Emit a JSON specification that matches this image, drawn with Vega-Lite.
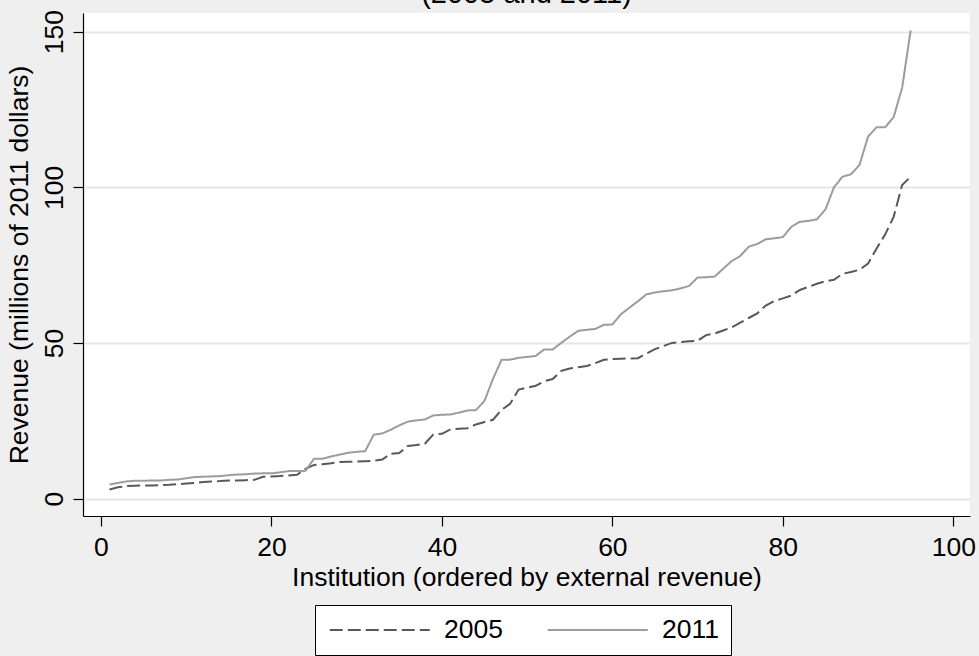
{
  "$schema": "https://vega.github.io/schema/vega-lite/v6.json",
  "autosize": {"type": "none"},
  "width": 887,
  "height": 503,
  "padding": {"left": 83, "top": 13, "right": 9, "bottom": 140},
  "background": "#efefef",
  "view": {"fill": "white", "stroke": null},
  "title": {"text": "(2005 and 2011)", "fontSize": 29, "font": "Liberation Sans", "fontWeight": "normal", "color": "black", "baseline": "alphabetic", "offset": -22, "anchor": "middle"},
  "config": {"font": "Liberation Sans"},
  "datasets": {
    "rev": [
      {"inst":1,"y2005":2.9,"y2011":4.5},{"inst":2,"y2005":3.6,"y2011":5.0},{"inst":3,"y2005":4.0,"y2011":5.5},{"inst":4,"y2005":4.1,"y2011":5.7},{"inst":5,"y2005":4.2,"y2011":5.7},
      {"inst":6,"y2005":4.2,"y2011":5.8},{"inst":7,"y2005":4.3,"y2011":5.8},{"inst":8,"y2005":4.4,"y2011":6.0},{"inst":9,"y2005":4.6,"y2011":6.1},{"inst":10,"y2005":4.8,"y2011":6.5},
      {"inst":11,"y2005":5.0,"y2011":6.9},{"inst":12,"y2005":5.3,"y2011":7.0},{"inst":13,"y2005":5.5,"y2011":7.1},{"inst":14,"y2005":5.6,"y2011":7.2},{"inst":15,"y2005":5.8,"y2011":7.5},
      {"inst":16,"y2005":5.8,"y2011":7.7},{"inst":17,"y2005":5.9,"y2011":7.8},{"inst":18,"y2005":6.0,"y2011":8.0},{"inst":19,"y2005":7.0,"y2011":8.1},{"inst":20,"y2005":7.1,"y2011":8.1},
      {"inst":21,"y2005":7.2,"y2011":8.4},{"inst":22,"y2005":7.4,"y2011":8.8},{"inst":23,"y2005":7.6,"y2011":8.8},{"inst":24,"y2005":9.5,"y2011":8.9},{"inst":25,"y2005":10.8,"y2011":12.8},
      {"inst":26,"y2005":11.0,"y2011":12.8},{"inst":27,"y2005":11.3,"y2011":13.5},{"inst":28,"y2005":11.7,"y2011":14.1},{"inst":29,"y2005":11.8,"y2011":14.7},{"inst":30,"y2005":11.9,"y2011":15.0},
      {"inst":31,"y2005":12.0,"y2011":15.2},{"inst":32,"y2005":12.1,"y2011":20.5},{"inst":33,"y2005":12.5,"y2011":20.9},{"inst":34,"y2005":14.4,"y2011":22.1},{"inst":35,"y2005":14.6,"y2011":23.5},
      {"inst":36,"y2005":16.9,"y2011":24.7},{"inst":37,"y2005":17.2,"y2011":25.1},{"inst":38,"y2005":17.6,"y2011":25.4},{"inst":39,"y2005":20.6,"y2011":26.7},{"inst":40,"y2005":20.8,"y2011":26.9},
      {"inst":41,"y2005":22.2,"y2011":27.0},{"inst":42,"y2005":22.4,"y2011":27.6},{"inst":43,"y2005":22.6,"y2011":28.3},{"inst":44,"y2005":23.8,"y2011":28.4},{"inst":45,"y2005":24.6,"y2011":31.4},
      {"inst":46,"y2005":25.3,"y2011":38.5},{"inst":47,"y2005":28.5,"y2011":44.6},{"inst":48,"y2005":30.4,"y2011":44.6},{"inst":49,"y2005":35.0,"y2011":45.2},{"inst":50,"y2005":35.6,"y2011":45.5},
      {"inst":51,"y2005":36.2,"y2011":45.8},{"inst":52,"y2005":37.7,"y2011":47.9},{"inst":53,"y2005":38.4,"y2011":47.9},{"inst":54,"y2005":41.0,"y2011":50.0},{"inst":55,"y2005":41.8,"y2011":52.0},
      {"inst":56,"y2005":42.2,"y2011":53.9},{"inst":57,"y2005":42.6,"y2011":54.2},{"inst":58,"y2005":43.5,"y2011":54.5},{"inst":59,"y2005":44.6,"y2011":55.8},{"inst":60,"y2005":44.8,"y2011":55.9},
      {"inst":61,"y2005":44.9,"y2011":59.2},{"inst":62,"y2005":45.0,"y2011":61.3},{"inst":63,"y2005":45.1,"y2011":63.4},{"inst":64,"y2005":46.6,"y2011":65.6},{"inst":65,"y2005":48.0,"y2011":66.2},
      {"inst":66,"y2005":49.0,"y2011":66.6},{"inst":67,"y2005":50.0,"y2011":66.9},{"inst":68,"y2005":50.3,"y2011":67.5},{"inst":69,"y2005":50.5,"y2011":68.3},{"inst":70,"y2005":50.7,"y2011":71.0},
      {"inst":71,"y2005":52.5,"y2011":71.1},{"inst":72,"y2005":53.0,"y2011":71.3},{"inst":73,"y2005":54.0,"y2011":73.8},{"inst":74,"y2005":55.0,"y2011":76.3},{"inst":75,"y2005":56.5,"y2011":77.9},
      {"inst":76,"y2005":58.0,"y2011":80.9},{"inst":77,"y2005":59.5,"y2011":81.8},{"inst":78,"y2005":62.0,"y2011":83.3},{"inst":79,"y2005":63.5,"y2011":83.6},{"inst":80,"y2005":64.3,"y2011":84.0},
      {"inst":81,"y2005":65.2,"y2011":87.3},{"inst":82,"y2005":67.0,"y2011":88.9},{"inst":83,"y2005":68.0,"y2011":89.2},{"inst":84,"y2005":69.0,"y2011":89.7},{"inst":85,"y2005":69.8,"y2011":92.9},
      {"inst":86,"y2005":70.3,"y2011":100.0},{"inst":87,"y2005":72.2,"y2011":103.4},{"inst":88,"y2005":72.8,"y2011":104.2},{"inst":89,"y2005":73.5,"y2011":107.2},{"inst":90,"y2005":75.5,"y2011":116.3},
      {"inst":91,"y2005":80.3,"y2011":119.3},{"inst":92,"y2005":84.8,"y2011":119.3},{"inst":93,"y2005":90.5,"y2011":122.5},{"inst":94,"y2005":100.7,"y2011":132.0},{"inst":95,"y2005":103.4,"y2011":150.4}
    ]
  },
  "data": {"name": "rev"},
  "transform": [
    {"fold": ["y2005", "y2011"], "as": ["key", "revenue"]},
    {"calculate": "substring(datum.key, 1)", "as": "year"}
  ],
  "mark": {"type": "line", "strokeWidth": 2, "clip": false},
  "encoding": {
    "x": {
      "field": "inst", "type": "quantitative",
      "scale": {"domain": [-2.11, 101.96], "nice": false, "zero": false},
      "axis": {
        "values": [0, 20, 40, 60, 80, 100], "grid": false,
        "domainColor": "black", "domainWidth": 1.2, "tickColor": "black", "tickSize": 10, "tickWidth": 1.2,
        "labelFontSize": 26.5, "labelColor": "black", "labelPadding": 8, "labelFont": "Liberation Sans",
        "title": "Institution (ordered by external revenue)", "titleFontSize": 26.5, "titleFontWeight": "normal", "titleColor": "black", "titlePadding": 4, "titleFont": "Liberation Sans"
      }
    },
    "y": {
      "field": "revenue", "type": "quantitative",
      "scale": {"domain": [-5.62, 156.0], "nice": false, "zero": false},
      "axis": {
        "values": [0, 50, 100, 150], "grid": true, "gridColor": "#e6e6e6", "gridWidth": 2,
        "domainColor": "black", "domainWidth": 1.2, "tickColor": "black", "tickSize": 10, "tickWidth": 1.2,
        "labelFontSize": 26.5, "labelColor": "black", "labelAngle": 270, "labelAlign": "center", "labelBaseline": "alphabetic", "labelPadding": 11, "labelFont": "Liberation Sans",
        "title": "Revenue (millions of 2011 dollars)", "titleFontSize": 26.5, "titleFontWeight": "normal", "titleColor": "black", "titlePadding": 8, "titleFont": "Liberation Sans"
      }
    },
    "color": {
      "field": "year", "type": "nominal",
      "scale": {"domain": ["2005", "2011"], "range": ["#585858", "#9c9c9c"]},
      "legend": {
        "title": null, "orient": "none", "legendX": 232, "legendY": 592, "direction": "horizontal",
        "strokeColor": "black", "fillColor": "white", "padding": 11.5,
        "symbolType": "M-1,0H9", "symbolSize": 400, "symbolStrokeWidth": 2, "symbolFillColor": "transparent",
        "labelFontSize": 26.5, "labelColor": "black", "labelOffset": 91, "columnPadding": 40, "labelFont": "Liberation Sans"
      }
    },
    "strokeDash": {
      "field": "year", "type": "nominal",
      "scale": {"domain": ["2005", "2011"], "range": [[13, 5], [1, 0]]},
      "legend": {
        "title": null, "orient": "none", "legendX": 232, "legendY": 592, "direction": "horizontal",
        "strokeColor": "black", "fillColor": "white", "padding": 11.5,
        "symbolType": "M-1,0H9", "symbolSize": 400, "symbolStrokeWidth": 2, "symbolFillColor": "transparent",
        "labelFontSize": 26.5, "labelColor": "black", "labelOffset": 91, "columnPadding": 40, "labelFont": "Liberation Sans"
      }
    }
  }
}
